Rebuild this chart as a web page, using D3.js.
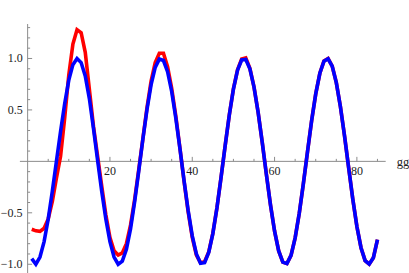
<!DOCTYPE html>
<html>
<head>
<meta charset="utf-8">
<script src="https://cdn.jsdelivr.net/npm/d3@7"></script>
<style>
  body { margin: 0; background: #fff; }
</style>
</head>
<body>
<div id="chart"></div>
<script>
var svgWidth = 409;
var svgHeight = 273;

// sample positions
var xs = d3.range(1, 86);

// blue series
var blueVals = [-0.945, -1.0, -0.93, -0.78, -0.56, -0.29, 0.0, 0.29, 0.56, 0.79,
  0.94, 1.0, 0.96, 0.83, 0.61, 0.32, 0.01, -0.29, -0.56, -0.78,
  -0.93, -1.0, -0.97, -0.855, -0.656, -0.393, -0.093, 0.216, 0.505, 0.745,
  0.913, 0.994, 0.98, 0.871, 0.679, 0.422, 0.124, -0.186, -0.478, -0.724,
  -0.9, -0.99, -0.985, -0.886, -0.702, -0.45, -0.155, 0.155, 0.45, 0.702,
  0.886, 0.985, 0.99, 0.9, 0.723, 0.477, 0.185, -0.124, -0.422, -0.679,
  -0.871, -0.98, -0.994, -0.913, -0.744, -0.504, -0.216, 0.093, 0.394, 0.656,
  0.856, 0.973, 0.997, 0.925, 0.765, 0.531, 0.246, -0.062, -0.365, -0.633,
  -0.839, -0.965, -0.999, -0.937, -0.76];

// red series
var redVals = [-0.66, -0.675, -0.68, -0.65, -0.56, -0.39, -0.16, 0.05, 0.42, 0.84,
  1.14, 1.28, 1.25, 1.06, 0.7, 0.34, 0.05, -0.24, -0.52, -0.74,
  -0.87, -0.91, -0.89, -0.8, -0.62, -0.37, -0.08, 0.22, 0.52, 0.78,
  0.96, 1.05, 1.05, 0.92, 0.71, 0.44, 0.13, -0.19, -0.49, -0.74,
  -0.91, -0.985, -0.975, -0.88, -0.7, -0.45, -0.155, 0.155, 0.45, 0.705,
  0.89, 0.995, 1.005, 0.905, 0.723, 0.477, 0.185, -0.124, -0.422, -0.679,
  -0.871, -0.98, -0.994, -0.913, -0.744, -0.504, -0.216, 0.093, 0.394, 0.656,
  0.856, 0.976, 1.0, 0.925, 0.765, 0.531, 0.246, -0.062, -0.365, -0.633,
  -0.839, -0.965, -0.999, -0.937, -0.76];

// tick values / labels
var xMajor = [20, 40, 60, 80];
var xMinor = [5, 10, 15, 25, 30, 35, 45, 50, 55, 65, 70, 75, 85];
var yMajor = [-1.0, -0.5, 0.5, 1.0];
var yMinor = [-0.9, -0.8, -0.7, -0.6, -0.4, -0.3, -0.2, -0.1,
  0.1, 0.2, 0.3, 0.4, 0.6, 0.7, 0.8, 0.9, 1.1, 1.2, 1.3];
var xAxisLabel = "gg";

var serif = "'Liberation Serif', 'Times New Roman', 'DejaVu Serif', serif";

var svg = d3.select("#chart")
  .append("svg")
  .attr("width", svgWidth)
  .attr("height", svgHeight);

var xScale = d3.scaleLinear()
  .domain([-1.88, 87])
  .range([19.9, 385.7]);

var yScale = d3.scaleLinear()
  .domain([-1.085, 1.335])
  .range([273, 24]);

var axisColor = "#8c8c8c";
var x0 = xScale(0), y0 = yScale(0);

// axes lines
svg.append("line")
  .attr("x1", xScale(-1.88)).attr("x2", xScale(87))
  .attr("y1", y0).attr("y2", y0)
  .attr("stroke", axisColor).attr("stroke-width", 1);

svg.append("line")
  .attr("x1", x0).attr("x2", x0)
  .attr("y1", yScale(1.335)).attr("y2", yScale(-1.085))
  .attr("stroke", axisColor).attr("stroke-width", 1);

// x ticks (pointing up)
svg.selectAll(".xmaj").data(xMajor).enter().append("line")
  .attr("x1", d => xScale(d)).attr("x2", d => xScale(d))
  .attr("y1", y0).attr("y2", y0 - 4.5)
  .attr("stroke", axisColor);
svg.selectAll(".xmin").data(xMinor).enter().append("line")
  .attr("x1", d => xScale(d)).attr("x2", d => xScale(d))
  .attr("y1", y0).attr("y2", y0 - 2.5)
  .attr("stroke", axisColor);
svg.selectAll(".xlab").data(xMajor).enter().append("text")
  .attr("x", d => xScale(d))
  .attr("y", y0 + 14)
  .attr("text-anchor", "middle")
  .attr("font-family", serif)
  .attr("font-size", 12)
  .attr("fill", "#222")
  .text(d => d);

// y ticks (pointing right)
svg.selectAll(".ymaj").data(yMajor).enter().append("line")
  .attr("x1", x0).attr("x2", x0 + 4.5)
  .attr("y1", d => yScale(d)).attr("y2", d => yScale(d))
  .attr("stroke", axisColor);
svg.selectAll(".ymin").data(yMinor).enter().append("line")
  .attr("x1", x0).attr("x2", x0 + 2.5)
  .attr("y1", d => yScale(d)).attr("y2", d => yScale(d))
  .attr("stroke", axisColor);
svg.selectAll(".ylab").data(yMajor).enter().append("text")
  .attr("x", x0 - 5)
  .attr("y", d => yScale(d) + 4)
  .attr("text-anchor", "end")
  .attr("font-family", serif)
  .attr("font-size", 12)
  .attr("fill", "#222")
  .text(d => d3.format(".1f")(d).replace("-", "\u2212"));

svg.append("text")
  .attr("x", xScale(87) + 11)
  .attr("y", y0 + 5)
  .attr("font-family", serif)
  .attr("font-size", 12.5)
  .attr("fill", "#222")
  .text(xAxisLabel);

// curves
var line = d3.line()
  .x((d, i) => xScale(xs[i]))
  .y(d => yScale(d));

svg.append("path")
  .datum(redVals)
  .attr("d", line)
  .attr("fill", "none")
  .attr("stroke", "#ff0000")
  .attr("stroke-width", 3.6);

svg.append("path")
  .datum(blueVals)
  .attr("d", line)
  .attr("fill", "none")
  .attr("stroke", "#0000ff")
  .attr("stroke-width", 3.6);
</script>
</body>
</html>
